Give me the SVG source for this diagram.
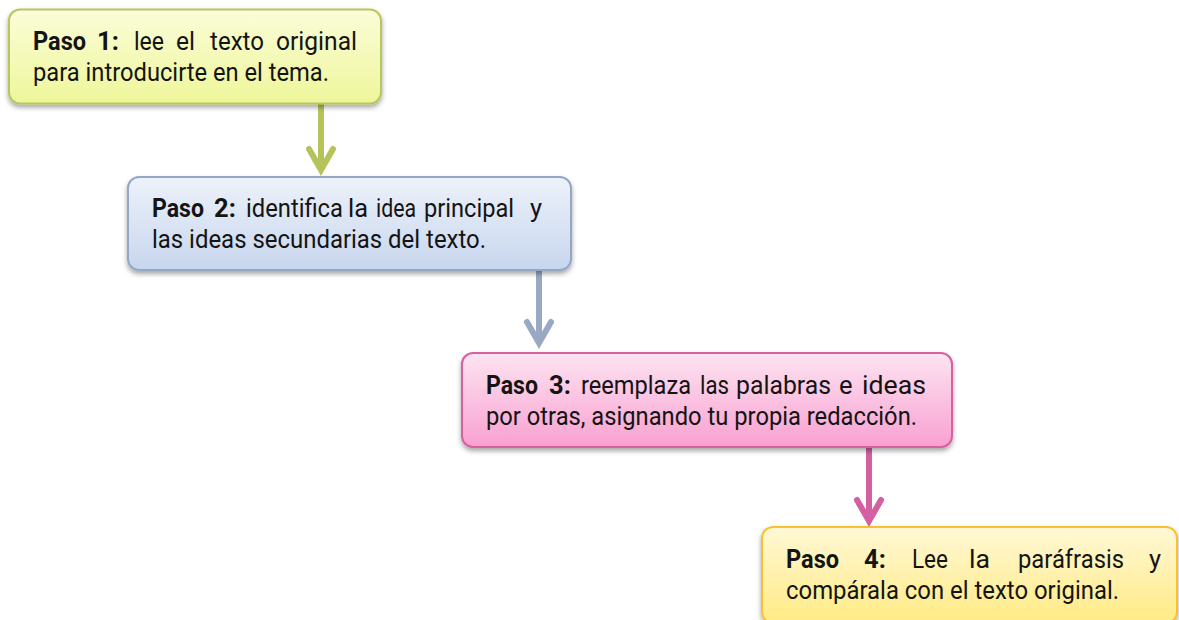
<svg xmlns="http://www.w3.org/2000/svg" width="1179" height="620" viewBox="0 0 1179 620">
<defs>
<linearGradient id="g1" x1="0" y1="0" x2="0" y2="1"><stop offset="0" stop-color="#fbfdd8"/><stop offset="1" stop-color="#eef69a"/></linearGradient>
<linearGradient id="g2" x1="0" y1="0" x2="0" y2="1"><stop offset="0" stop-color="#edf2fa"/><stop offset="1" stop-color="#c7d6ee"/></linearGradient>
<linearGradient id="g3" x1="0" y1="0" x2="0" y2="1"><stop offset="0" stop-color="#fde4f1"/><stop offset="1" stop-color="#f9a0d1"/></linearGradient>
<linearGradient id="g4" x1="0" y1="0" x2="0" y2="1"><stop offset="0" stop-color="#fff8d6"/><stop offset="1" stop-color="#ffeb84"/></linearGradient>
<filter id="sh" x="-10%" y="-20%" width="120%" height="150%"><feDropShadow dx="0" dy="3" stdDeviation="2.5" flood-color="#000" flood-opacity="0.35"/></filter>
</defs>
<style>
.box{stroke-width:2;filter:url(#sh)}
text{font-family:Roboto,"Liberation Sans",sans-serif;font-size:25.5px;fill:#141414}
.b{font-weight:bold}
.conn{fill:none;stroke-width:6;stroke-linecap:round;stroke-linejoin:miter}
</style>
<g id="connectors">
<path class="conn" d="M321 104V168M309 149L321 170L333 149" stroke="#b6c35a"/>
<path class="conn" d="M539 271V342M527 322L539 343L551 322" stroke="#98a9c1"/>
<path class="conn" d="M869 448V519M857 500L869 521L881 500" stroke="#d45fa2"/>
</g>
<g id="node1">
<rect class="box" x="9" y="9.5" width="372" height="94" rx="11" fill="url(#g1)" stroke="#b8c65c"/>
<text class="b" x="33" y="50" textLength="53" lengthAdjust="spacingAndGlyphs">Paso</text>
<text class="b" x="97" y="50">1:</text>
<text x="134" y="50" textLength="30" lengthAdjust="spacingAndGlyphs">lee</text>
<text x="176" y="50" textLength="19" lengthAdjust="spacingAndGlyphs">el</text>
<text x="210" y="50" textLength="54" lengthAdjust="spacingAndGlyphs">texto</text>
<text x="276" y="50" textLength="81" lengthAdjust="spacingAndGlyphs">original</text>
<text x="33" y="81" textLength="296" lengthAdjust="spacingAndGlyphs">para introducirte en el tema.</text>
</g>
<g id="node2">
<rect class="box" x="128" y="177" width="443" height="93" rx="11" fill="url(#g2)" stroke="#94a8c6"/>
<text class="b" x="152" y="217" textLength="52" lengthAdjust="spacingAndGlyphs">Paso</text>
<text class="b" x="214" y="217">2:</text>
<text x="246" y="217" textLength="97" lengthAdjust="spacingAndGlyphs">identifica</text>
<text x="348" y="217" textLength="20" lengthAdjust="spacingAndGlyphs">la</text>
<text x="376" y="217" textLength="40" lengthAdjust="spacingAndGlyphs">idea</text>
<text x="424" y="217" textLength="90" lengthAdjust="spacingAndGlyphs">principal</text>
<text x="530" y="217">y</text>
<text x="152" y="248" textLength="334" lengthAdjust="spacingAndGlyphs">las ideas secundarias del texto.</text>
</g>
<g id="node3">
<rect class="box" x="462" y="353" width="490" height="94" rx="11" fill="url(#g3)" stroke="#d7619f"/>
<text class="b" x="486" y="393.5" textLength="52" lengthAdjust="spacingAndGlyphs">Paso</text>
<text class="b" x="549" y="393.5">3:</text>
<text x="581" y="393.5" textLength="110" lengthAdjust="spacingAndGlyphs">reemplaza</text>
<text x="700" y="393.5" textLength="29" lengthAdjust="spacingAndGlyphs">las</text>
<text x="736" y="393.5" textLength="95" lengthAdjust="spacingAndGlyphs">palabras</text>
<text x="839" y="393.5">e</text>
<text x="862" y="393.5" textLength="64" lengthAdjust="spacingAndGlyphs">ideas</text>
<text x="486" y="424.5" textLength="431" lengthAdjust="spacingAndGlyphs">por otras, asignando tu propia redacción.</text>
</g>
<g id="node4">
<rect class="box" x="762" y="527" width="415" height="96" rx="11" fill="url(#g4)" stroke="#f7c233"/>
<text class="b" x="786" y="568" textLength="53" lengthAdjust="spacingAndGlyphs">Paso</text>
<text class="b" x="864" y="568">4:</text>
<text x="912" y="568" textLength="36" lengthAdjust="spacingAndGlyphs">Lee</text>
<text x="969" y="568" textLength="21" lengthAdjust="spacingAndGlyphs">la</text>
<text x="1018" y="568" textLength="106" lengthAdjust="spacingAndGlyphs">paráfrasis</text>
<text x="1149" y="568">y</text>
<text x="786" y="599" textLength="333" lengthAdjust="spacingAndGlyphs">compárala con el texto original.</text>
</g>
</svg>
